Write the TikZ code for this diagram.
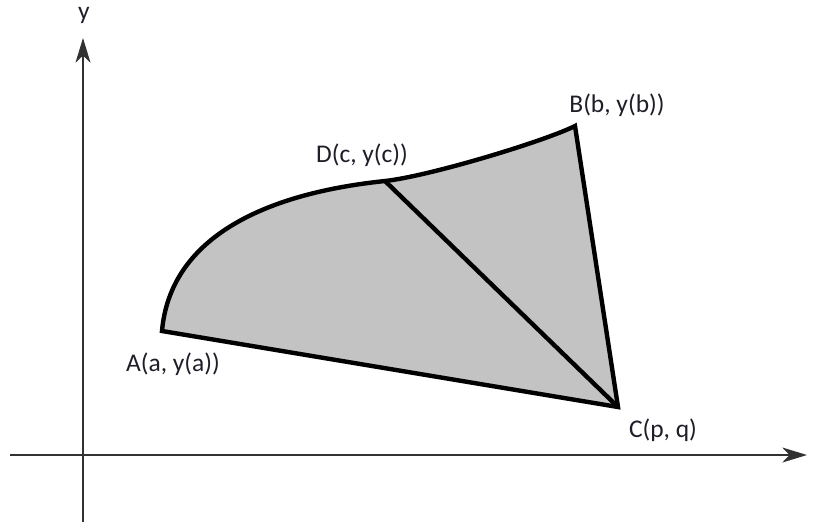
\documentclass[tikz,border=0pt]{standalone}
\usepackage{fontspec}
\setmainfont{Carlito}
\usetikzlibrary{arrows.meta}
\definecolor{regionfill}{RGB}{195,195,195}
\definecolor{labelcol}{RGB}{30,30,40}
\definecolor{axiscol}{RGB}{50,50,50}
\begin{document}
\begin{tikzpicture}[x=0.02cm,y=-0.02cm,
  axis/.style={draw=axiscol,line width=1.2pt,-{Stealth[length=14pt,width=8.5pt,inset=4pt]}},
  edge/.style={draw=black,line width=2.5pt,line join=miter},
  lbl/.style={text=labelcol,font=\fontsize{14.5}{16}\selectfont,inner sep=0pt}]
\useasboundingbox (0,0) rectangle (818,522);
\coordinate (A) at (162,331);
\coordinate (D) at (385,181);
\coordinate (B) at (575,126);
\coordinate (C) at (618,407);
\coordinate (ybot) at (83,522);
\coordinate (ytop) at (83,38);
\coordinate (xl) at (10,455);
\coordinate (xr) at (807,455);
% axes
\draw[axis] (ybot) -- (ytop);
\draw[axis] (xl) -- (xr);
% region
\fill[regionfill] (A) .. controls (170,240) and (260,194) .. (D)
   .. controls (430,176) and (545,141) .. (B) -- (C) -- cycle;
\draw[edge] (A) .. controls (170,240) and (260,194) .. (D)
   .. controls (430,176) and (545,141) .. (B) -- (C) -- cycle;
\draw[edge] (D) -- (C);
% labels
\node[lbl] (ylab) at (84,15) {y};
\node[lbl] (Alab) at (173,364) {A(a, y(a))};
\node[lbl] (Blab) at (617,105) {B(b, y(b))};
\node[lbl] (Dlab) at (362,155) {D(c, y(c))};
\node[lbl] (Clab) at (663,430) {C(p, q)};
\end{tikzpicture}
\end{document}
